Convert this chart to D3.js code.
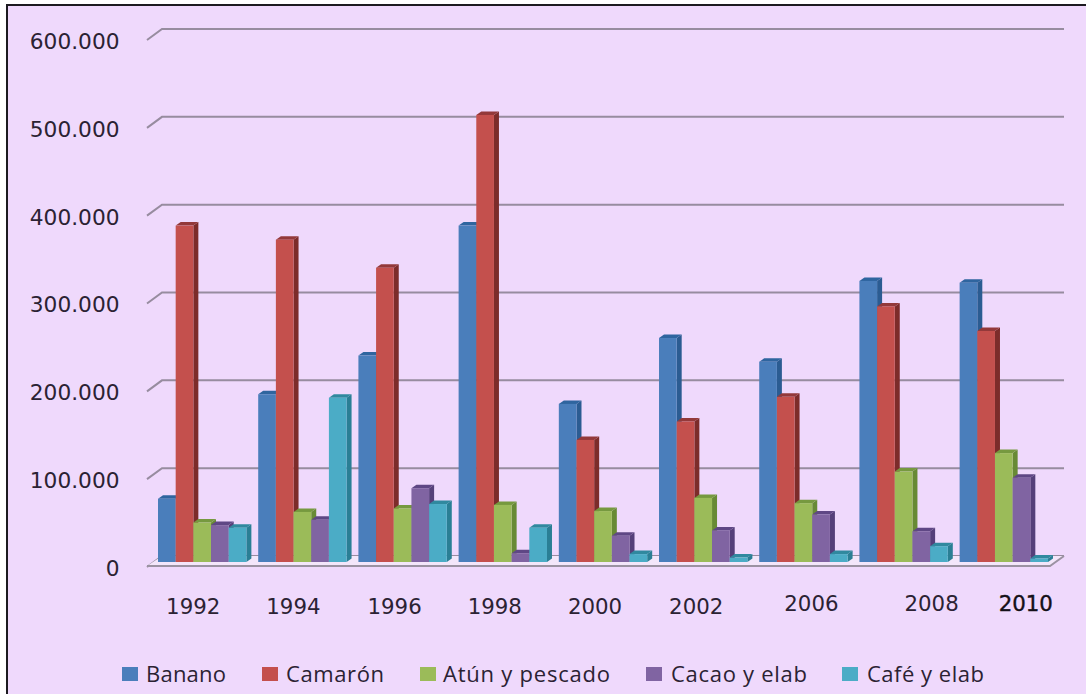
<!DOCTYPE html>
<html>
<head>
<meta charset="utf-8">
<script src="https://cdn.jsdelivr.net/npm/d3@7"></script>
<style>
  html, body { margin: 0; padding: 0; background: #fff; }
  svg { display: block; }
</style>
</head>
<body>
<svg id="chart" width="1086" height="694"></svg>
<script>
// Exports by product and year
const years = ["1992", "1994", "1996", "1998", "2000", "2002", "2006", "2008", "2010"];
const seriesNames = ["Banano", "Camarón", "Atún y pescado", "Cacao y elab", "Café y elab"];
const banano = [72000, 191000, 235000, 383000, 180000, 255000, 228000, 320000, 318000];
const camaron = [383000, 367000, 335000, 509000, 139000, 160000, 188000, 291000, 263000];
const atun = [45000, 57000, 61000, 65000, 58000, 73000, 67000, 103000, 124000];
const cacao = [42000, 48000, 84000, 10000, 30000, 36000, 54000, 35000, 96000];
const cafe = [39000, 187000, 66000, 39000, 9000, 5000, 9000, 18000, 4000];
const seriesValues = [banano, camaron, atun, cacao, cafe];
const yTicks = [0, 100000, 200000, 300000, 400000, 500000, 600000];

// Face colours: front, side, top
const frontColors = ["#4a7ebb", "#c4504d", "#9bbb59", "#8064a2", "#4bacc6"];
const sideColors = ["#2b5c92", "#7c2c2a", "#688a35", "#55407a", "#2a7f95"];
const topColors = ["#2f659f", "#93393a", "#76993f", "#5f4785", "#30899f"];

// Hand-set nudges of the year captions relative to their group centre
const yearNudgeX = [-9, -9, -8, -8, -8, -7, 8, 28, 22];
const yearNudgeY = [0, 0, 0, 0, 0, 0, -3, -3, -3];

// Legend layout: swatch left edge, caption left edge, caption width
const legendSwatchX = [122, 262, 420, 646, 842];
const legendTextX = [146, 286, 443, 671, 867];
const legendTextW = [80, 98, 167, 136, 117];

const svg = d3.select("#chart");
const W = 1086, H = 694;

// Panel with its dark top and left rules
svg.append("rect").attr("x", 7).attr("y", 5).attr("width", W - 7).attr("height", H - 5).attr("fill", "#efd9fc");
svg.append("line").attr("x1", 6).attr("x2", W).attr("y1", 5).attr("y2", 5).attr("stroke", "#1c1a20").attr("stroke-width", 2);
svg.append("line").attr("x1", 7).attr("x2", 7).attr("y1", 4).attr("y2", H).attr("stroke", "#1c1a20").attr("stroke-width", 2);

// Scales: y maps onto the back wall of the box
const y = d3.scaleLinear().domain([0, 600000]).range([556, 29]);
const x0 = d3.scaleBand().domain(years).range([158, 1048]).paddingInner(0.118);
const x1 = d3.scaleBand().domain(d3.range(seriesNames.length)).range([0, x0.bandwidth()]);

// Oblique projection constants
const wallDx = 15, wallDy = 10, wallRight = 1064;
const barFrontDy = 6, barDx = 5, barDy = 3.5;
const gridColor = "#978c9f";

// Gridlines on the back wall with a short slanted return on the left
const grid = svg.append("g").attr("fill", "none").attr("stroke", gridColor).attr("stroke-width", 2);
grid.selectAll("path").data(yTicks).join("path")
  .attr("d", d => {
    const p = d3.path();
    p.moveTo(147, y(d) + wallDy + 1);
    p.lineTo(147 + wallDx, y(d));
    p.lineTo(wallRight, y(d));
    return p.toString();
  });

// Floor of the box
const floorY = y(0) + wallDy;
svg.append("path")
  .attr("d", `M147,${floorY}L162,${y(0)}L${wallRight},${y(0)}L1050,${floorY}Z`)
  .attr("fill", "#f3e6fa").attr("stroke", "none");
svg.append("path")
  .attr("d", `M147,${floorY}L1050,${floorY}L${wallRight},${y(0)}`)
  .attr("fill", "none").attr("stroke", "#9b92a2").attr("stroke-width", 2);

// Axis captions on the value axis
const fmt = v => d3.format(",")(v).replace(/,/g, ".");
const axisLeft = d3.axisLeft(y).tickValues(yTicks).tickFormat(fmt).tickSize(0).tickPadding(0);
const yAxis = svg.append("g").attr("transform", "translate(119.5,12.5)").call(axisLeft);
yAxis.select(".domain").remove();
yAxis.selectAll("text")
  .attr("font-family", "'DejaVu Sans'").attr("font-size", 21.7).attr("fill", "#2b2233");

// Bars, each as front, side and top faces
const groups = svg.selectAll("g.year").data(years).join("g")
  .attr("class", "year")
  .attr("transform", d => `translate(${x0(d)},0)`);

groups.each(function (yr, yi) {
  const g = d3.select(this);
  seriesValues.forEach((vals, si) => {
    const bx = x1(si), bw = x1.bandwidth();
    const top = y(vals[yi]) + barFrontDy, base = y(0) + barFrontDy;
    g.append("path").attr("fill", sideColors[si])
      .attr("d", `M${bx + bw},${top}L${bx + bw + barDx},${top - barDy}L${bx + bw + barDx},${base - barDy}L${bx + bw},${base}Z`);
    g.append("path").attr("fill", topColors[si])
      .attr("d", `M${bx},${top}L${bx + barDx},${top - barDy}L${bx + bw + barDx},${top - barDy}L${bx + bw},${top}Z`);
    g.append("rect").attr("fill", frontColors[si])
      .attr("x", bx).attr("y", top).attr("width", bw).attr("height", base - top);
  });
});

// Year captions
svg.selectAll("text.yr").data(years).join("text")
  .attr("class", "yr")
  .attr("x", (d, i) => x0(d) + x0.bandwidth() / 2 + yearNudgeX[i])
  .attr("y", (d, i) => 614 + yearNudgeY[i])
  .attr("text-anchor", "middle")
  .attr("font-family", "'DejaVu Sans'").attr("font-size", 21.3)
  .attr("fill", d => d === "2010" ? "#141018" : "#2b2233")
  .attr("stroke", d => d === "2010" ? "#141018" : "none")
  .attr("stroke-width", 0.4)
  .text(d => d);

// Legend
const legend = svg.selectAll("g.legend").data(seriesNames).join("g").attr("class", "legend");
legend.append("rect")
  .attr("x", (d, i) => legendSwatchX[i]).attr("y", 667)
  .attr("width", 16).attr("height", 14)
  .attr("fill", (d, i) => frontColors[i]);
legend.append("text")
  .attr("x", (d, i) => legendTextX[i]).attr("y", 682)
  .attr("font-family", "'Open Sans'").attr("font-size", 22)
  .attr("textLength", (d, i) => legendTextW[i]).attr("lengthAdjust", "spacing")
  .attr("fill", "#2b2233")
  .text(d => d);
</script>
</body>
</html>
